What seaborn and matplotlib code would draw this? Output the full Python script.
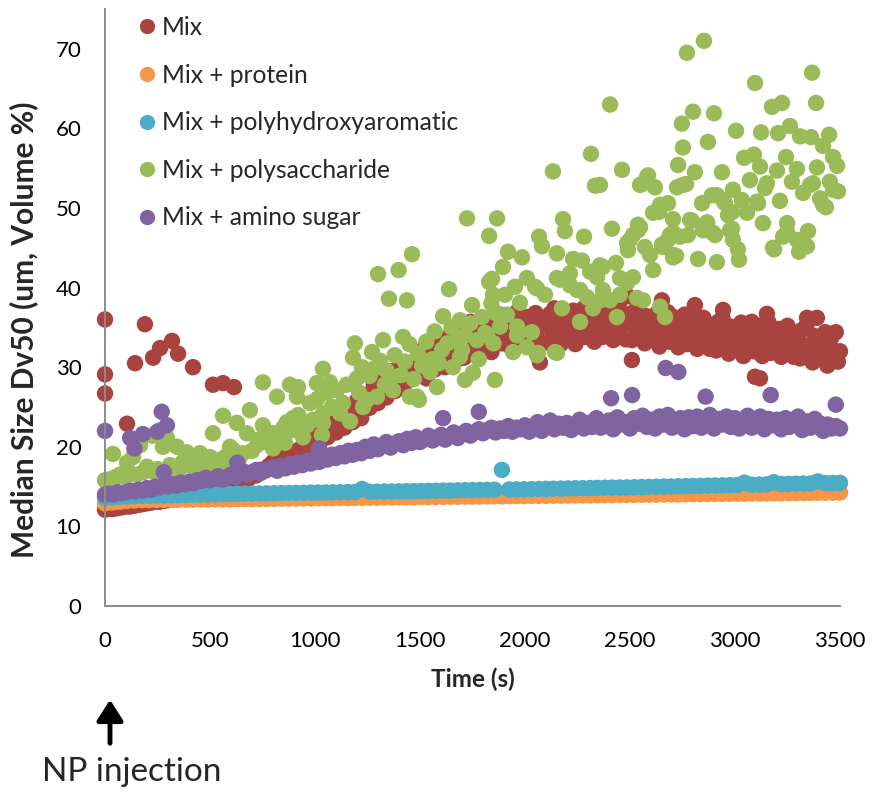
import numpy as np
import pandas as pd
import matplotlib
matplotlib.use("Agg")
import matplotlib.pyplot as plt
import seaborn as sns

# ---------------- data ----------------
series_names = ["Mix", "Mix + protein", "Mix + polyhydroxyaromatic",
                "Mix + polysaccharide", "Mix + amino sugar"]
series_colors = ["#A8433F", "#F79646", "#4BACC6", "#9BBB59", "#8064A2"]

# Mix: early band (20 s steps, 0-1480 s)
mix_t1 = np.arange(0, 1500, 20)
mix_y1 = [12.1, 12.2, 12.2, 12.3, 12.4, 12.5, 12.5, 12.6, 12.7, 12.8,
          12.9, 13.0, 13.1, 13.1, 13.2, 13.3, 13.4, 13.4, 13.5, 13.6,
          13.8, 13.9, 14.1, 14.1, 14.4, 14.5, 14.7, 14.8, 15.1, 15.2,
          15.6, 15.3, 16.0, 16.2, 15.9, 16.7, 16.4, 17.1, 17.0, 17.6,
          18.1, 17.6, 18.6, 18.3, 19.0, 18.8, 19.6, 19.2, 20.3, 19.8,
          21.4, 20.3, 22.0, 21.2, 22.9, 21.8, 23.0, 22.4, 24.3, 23.1,
          25.8, 23.6, 26.5, 24.9, 27.8, 25.5, 28.6, 26.2, 29.5, 27.0,
          30.0, 27.4, 29.6, 28.5, 30.9]
# Mix: late band (10 s steps, 1500-3500 s)
mix_t2 = np.arange(1500, 3501, 10)
mix_y2 = [32.0, 29.2, 30.9, 28.6, 31.9, 30.7, 33.4, 29.7, 32.2, 30.8,
          31.3, 33.4, 30.0, 33.1, 31.2, 34.4, 32.3, 33.8, 31.0, 33.2,
          33.6, 31.2, 34.9, 32.7, 35.7, 32.1, 33.7, 31.5, 35.1, 33.8,
          32.7, 34.9, 33.7, 36.1, 31.9, 34.8, 35.8, 33.5, 36.6, 33.0,
          36.4, 33.4, 35.0, 32.6, 35.8, 34.4, 36.9, 33.2, 35.5, 34.0,
          34.3, 36.3, 32.8, 35.7, 33.7, 36.8, 34.7, 36.1, 33.1, 35.3,
          35.6, 33.1, 36.7, 34.4, 37.4, 33.7, 35.2, 32.9, 36.4, 35.1,
          33.9, 36.0, 34.8, 37.1, 32.9, 35.7, 36.7, 34.4, 37.4, 33.8,
          37.1, 34.1, 35.7, 33.2, 36.4, 35.0, 37.6, 33.8, 36.1, 34.6,
          34.9, 36.9, 33.4, 36.3, 34.3, 37.4, 35.2, 36.5, 33.5, 35.6,
          35.9, 33.4, 37.0, 34.7, 37.6, 33.8, 35.3, 33.0, 36.4, 35.0,
          33.7, 35.8, 34.6, 36.8, 32.6, 35.3, 36.1, 33.8, 36.9, 33.2,
          36.4, 33.4, 35.0, 32.5, 35.6, 34.2, 36.6, 32.9, 35.1, 33.5,
          33.8, 35.8, 32.3, 35.2, 33.2, 36.2, 34.0, 35.3, 32.3, 34.3,
          34.6, 32.1, 35.7, 33.4, 36.2, 32.5, 34.0, 31.7, 35.1, 33.7,
          32.5, 34.6, 33.4, 35.6, 31.4, 34.3, 35.2, 32.7, 35.7, 32.0,
          35.3, 32.3, 33.9, 31.4, 34.5, 33.1, 35.6, 31.8, 34.0, 32.5,
          32.8, 34.8, 31.3, 34.2, 32.2, 35.2, 33.0, 34.2, 31.3, 33.3,
          33.6, 31.1, 34.7, 32.4, 35.2, 31.5, 32.8, 30.6, 33.9, 32.5,
          31.3, 33.4, 32.2, 34.4, 30.2, 32.9, 33.8, 31.4, 34.4, 30.7,
          32.0]
# Mix: scattered points
mix_t3 = [0, 0, 0, 105, 143, 190, 229, 262, 319, 348, 419, 514, 562, 614,
          2071, 2490, 2509, 2652, 2809, 2943, 3095, 3119, 3152, 3343, 3390]
mix_y3 = [36.0, 29.1, 26.7, 22.9, 30.5, 35.4, 31.2, 32.4, 33.3, 31.7, 30.0,
          27.8, 28.0, 27.5,
          30.6, 38.9, 30.9, 38.4, 37.8, 37.2, 28.8, 28.6, 36.7, 36.2, 36.2]

# Mix + protein (35 s steps)
prot_t = np.arange(0, 3501, 35)
prot_y = [12.9, 13.0, 13.1, 13.2, 13.25, 13.3, 13.3, 13.32, 13.33, 13.33,
          13.35, 13.36, 13.36, 13.38, 13.38, 13.4, 13.41, 13.41, 13.43, 13.44,
          13.44, 13.46, 13.46, 13.47, 13.49, 13.49, 13.5, 13.52, 13.52, 13.54,
          13.55, 13.55, 13.57, 13.57, 13.59, 13.6, 13.6, 13.62, 13.63, 13.63,
          13.65, 13.66, 13.66, 13.68, 13.69, 13.69, 13.71, 13.72, 13.72, 13.74,
          13.75, 13.75, 13.77, 13.78, 13.78, 13.8, 13.81, 13.81, 13.83, 13.84,
          13.84, 13.86, 13.87, 13.87, 13.89, 13.9, 13.9, 13.92, 13.93, 13.93,
          13.95, 13.96, 13.96, 13.98, 13.99, 13.99, 14.01, 14.02, 14.02, 14.04,
          14.05, 14.05, 14.07, 14.08, 14.08, 14.1, 14.11, 14.11, 14.13, 14.14,
          14.14, 14.16, 14.17, 14.17, 14.19, 14.2, 14.2, 14.22, 14.23, 14.23,
          14.25]

# Mix + polyhydroxyaromatic (35 s steps)
poly_t = np.arange(0, 3501, 35)
poly_y = [13.6, 13.65, 13.7, 13.75, 13.8, 13.82, 13.85, 13.87, 13.9, 13.92,
          13.94, 13.96, 13.98, 14.0, 14.02, 14.04, 14.06, 14.08, 14.1, 14.11,
          14.13, 14.14, 14.15, 14.17, 14.18, 14.2, 14.21, 14.22, 14.24, 14.25,
          14.27, 14.28, 14.29, 14.31, 14.32, 14.7, 14.35, 14.36, 14.38, 14.39,
          14.4, 14.42, 14.43, 14.45, 14.46, 14.48, 14.5, 14.51, 14.53, 14.54,
          14.56, 14.58, 14.59, 14.61, 17.1, 14.64, 14.65, 14.66, 14.68, 14.7,
          14.72, 14.73, 14.75, 14.77, 14.79, 14.8, 14.82, 14.84, 14.86, 14.88,
          14.89, 14.9, 14.92, 14.94, 14.96, 14.98, 15.0, 15.02, 15.04, 15.06,
          15.08, 15.1, 15.12, 15.14, 15.16, 15.18, 15.2, 15.5, 15.24, 15.26,
          15.28, 15.55, 15.32, 15.34, 15.36, 15.38, 15.4, 15.65, 15.44, 15.45,
          15.47]

# Mix + polysaccharide (individual points)
sacc_t = [0, 20, 38, 50, 71, 90, 105, 120, 133, 150, 167, 181, 200, 225, 230,
          250, 262, 276, 295, 309, 330, 343, 360, 371, 390, 410, 430, 452, 452,
          470, 490, 500, 514, 533, 550, 562, 580, 595, 595, 610, 628, 640, 657,
          676, 690, 700, 724, 740, 752, 752, 770, 800, 800, 819, 830, 850, 857,
          866, 881, 895, 895, 914, 919, 920, 940, 943, 962, 976, 990,
          1009, 1010, 1033, 1038, 1038, 1038, 1060, 1071, 1081, 1105, 1120,
          1133, 1150, 1167, 1181, 1190, 1200, 1210, 1224, 1229, 1248, 1260,
          1271, 1280, 1295, 1300, 1310, 1324, 1333, 1340, 1352, 1367, 1371,
          1380, 1398, 1410, 1419, 1429, 1438, 1450, 1452, 1462, 1470, 1486,
          1490, 1495, 1510, 1530, 1548, 1560, 1570, 1581, 1590, 1605, 1610,
          1630, 1638, 1650, 1657, 1676, 1690, 1690, 1700, 1714, 1714, 1724,
          1740, 1748, 1752, 1771, 1780, 1795, 1810, 1819, 1829, 1829, 1840,
          1843, 1848, 1850, 1857, 1860, 1867, 1881, 1895, 1905, 1914, 1919,
          1943, 1952, 1962, 1962, 1976, 1986, 2009, 2009, 2033, 2048, 2057,
          2057, 2062, 2067, 2081, 2095, 2133, 2143, 2152, 2152, 2152, 2167,
          2176, 2181, 2190, 2214, 2214, 2229, 2248, 2262, 2262, 2271, 2281,
          2295, 2310, 2314, 2324, 2333, 2343, 2357, 2357, 2357, 2362, 2371,
          2371, 2405, 2405, 2414, 2433, 2438, 2452, 2452, 2462, 2486, 2486,
          2490,
          2500, 2514, 2514, 2533, 2538, 2538, 2548, 2548, 2557, 2562, 2571,
          2581, 2586, 2595, 2610, 2610, 2619, 2638, 2643, 2643, 2652, 2657,
          2667, 2681, 2681, 2690, 2705, 2705, 2705, 2705, 2719, 2724, 2729,
          2738, 2747, 2752, 2752, 2767, 2771, 2776, 2786, 2795, 2800, 2809,
          2824, 2843, 2848, 2852, 2867, 2871, 2890, 2895, 2900, 2905, 2914,
          2914, 2938, 2943, 2952, 2967, 2976, 2986, 2986, 2990, 2990, 3005,
          3014, 3019, 3033, 3043, 3057, 3071, 3090, 3095, 3105, 3110, 3119,
          3124, 3133, 3143, 3152, 3176, 3181, 3186, 3200, 3205, 3214, 3224,
          3229, 3243, 3248, 3248, 3262, 3271, 3295, 3295, 3305, 3310, 3319,
          3324, 3343, 3348, 3357, 3362, 3367, 3371, 3386, 3390, 3405, 3419,
          3419, 3433, 3448, 3452, 3467, 3467, 3486, 3490]
sacc_y = [15.8, 15.9, 19.1, 16.2, 16.5, 16.3, 18.0, 16.6, 18.7, 16.5, 20.2,
          16.8, 17.5, 21.4, 16.9, 17.2, 22.1, 20.0, 21.1, 17.7, 17.0, 20.0,
          17.4, 18.1, 19.3, 17.6, 18.2, 19.2, 17.3, 18.0, 17.8, 18.7, 21.7,
          17.5, 18.4, 23.9, 18.9, 20.0, 17.7, 19.6, 23.0, 18.6, 19.2, 21.7,
          24.6, 19.5, 20.2, 21.0, 28.1, 22.7, 20.6, 21.7, 19.8, 26.3, 21.0,
          22.4, 20.5, 23.1, 27.8, 22.1, 23.6, 26.3, 27.5, 24.0, 22.6, 21.2,
          22.7, 25.5, 23.4,
          28.0, 26.0, 21.5, 29.8, 24.2, 23.0, 26.8, 28.1, 25.0, 27.1, 24.2,
          25.5, 27.8, 23.2, 31.2, 33.0, 28.6, 26.8, 30.0, 25.0, 25.9, 28.9,
          31.9, 29.8, 26.3, 41.7, 30.8, 33.4, 27.8, 29.6, 38.6, 28.8, 27.1,
          31.5, 42.2, 29.0, 33.8, 30.7, 38.4, 32.9, 26.3, 44.2, 28.5, 26.3,
          31.7, 25.9, 30.2, 33.2, 29.4, 31.0, 34.5, 27.5, 30.5, 32.2, 36.4,
          33.0, 39.8, 35.0, 30.0, 33.4, 35.9, 31.3, 32.2, 34.0, 28.4, 48.7,
          35.5, 37.8, 29.3, 33.4, 31.0, 36.3, 34.3, 34.0, 40.7, 46.5, 38.0,
          41.1, 39.1, 33.0, 28.4, 36.8, 48.7, 35.1, 42.6, 39.1, 36.6, 44.5,
          31.9, 40.1, 34.0, 35.1, 38.1, 43.8, 41.2, 32.5, 34.4, 40.1, 31.5,
          39.9, 31.8, 46.4, 45.2, 39.1, 54.6, 31.9, 44.3, 41.2, 31.8, 41.0,
          37.4, 48.6, 47.1, 41.8, 40.3, 43.6, 39.7, 39.7, 35.7, 43.4, 46.4,
          38.8, 42.0, 56.8, 37.4, 52.8, 41.3, 52.9, 42.8, 38.4, 42.7, 39.7,
          42.6, 63.0, 38.4, 47.4, 43.1, 36.3, 41.2, 39.1, 54.8, 45.6, 40.6,
          44.7,
          46.0, 46.6, 41.3, 38.7, 47.2, 47.9, 47.6, 52.9, 53.0, 38.4, 45.1,
          53.9, 54.1, 44.1, 42.2, 49.4, 52.6, 49.5, 37.6, 50.4, 45.4, 45.1,
          36.3, 50.6, 46.0, 46.6, 44.1, 48.6, 46.9, 43.8, 44.0, 52.6, 55.4,
          46.4, 60.6, 57.6, 52.9, 53.0, 69.5, 46.6, 48.5, 48.4, 62.1, 54.5,
          43.6, 50.6, 47.2, 71.0, 48.2, 58.3, 51.6, 46.9, 61.9, 46.6, 43.2,
          51.6, 54.5, 51.0, 50.6, 49.1, 47.2, 47.4, 49.5, 52.3, 46.0, 59.7,
          44.8, 43.5, 51.0, 56.3, 49.4, 53.5, 56.7, 65.7, 50.8, 50.6, 55.2,
          59.5, 48.1, 52.5, 53.1, 62.7, 45.0, 44.8, 54.7, 59.4, 50.9, 63.2,
          46.4, 56.4, 48.1, 47.0, 60.3, 53.3, 54.9, 46.0, 44.5, 59.0, 45.7,
          51.9, 45.2, 47.1, 52.9, 58.9, 67.0, 53.1, 63.2, 55.1, 51.2, 57.8,
          50.4, 50.1, 59.2, 53.3, 56.4, 52.3, 55.3, 52.1]

# Mix + amino sugar: band (20 s steps) + scattered points
amino_t1 = np.arange(0, 3501, 20)
amino_y1 = [14.0, 14.1, 14.0, 14.3, 14.2, 14.3, 14.5, 14.4, 14.6, 14.5,
            14.8, 14.6, 15.0, 14.9, 15.2, 15.0, 15.3, 15.1, 15.5, 15.3,
            15.6, 15.4, 15.8, 15.7, 16.1, 15.8, 16.0, 16.3, 15.9, 16.2,
            16.5, 16.2, 16.6, 16.9, 16.5, 16.8, 17.1, 16.7, 17.0, 17.2,
            17.4, 17.0, 17.6, 17.3, 17.8, 17.5, 18.0, 17.7, 18.2, 17.9,
            18.5, 18.1, 18.7, 18.4, 19.0, 18.6, 19.2, 18.8, 19.5, 19.0,
            19.6, 19.2, 20.0, 19.5, 20.3, 19.7, 20.1, 20.6, 19.9, 20.4,
            20.7, 20.2, 21.0, 20.5, 21.2, 20.6, 20.9, 21.4, 20.8, 21.1,
            21.5, 20.9, 21.3, 21.8, 21.1, 21.6, 22.0, 21.4, 21.8, 22.2,
            21.7, 22.1, 22.4, 21.8, 22.3, 22.0, 22.6, 21.9, 22.4, 22.2,
            22.7, 21.9, 22.5, 23.1, 22.0, 22.6, 23.3, 22.2, 22.9, 22.4,
            23.0, 22.1, 22.7, 23.4, 22.3, 23.0, 22.5, 23.6, 22.4, 22.9,
            23.3, 22.2, 23.7, 22.8, 23.1, 22.3, 23.6, 22.9, 23.9, 22.5,
            23.4, 22.3, 23.8, 22.8, 24.0, 22.4, 23.2, 23.6, 22.2, 23.7,
            22.6, 23.8, 22.4, 23.2, 24.0, 22.3, 23.5, 22.8, 23.8, 22.5,
            23.6, 22.3, 23.2, 23.9, 22.4, 23.0, 23.8, 22.2, 23.5, 22.7,
            23.4, 22.2, 23.6, 22.5, 23.0, 23.8, 22.1, 23.2, 22.4, 23.5,
            23.0, 22.0, 22.8, 22.3, 22.6, 22.3]
amino_t2 = [0, 120, 140, 180, 250, 270, 295, 280, 630, 1020, 1610, 1780,
            2410, 2510, 2670, 2730, 2860, 3170, 3480]
amino_y2 = [22.0, 21.1, 19.8, 21.6, 21.9, 24.4, 22.7, 16.8, 18.0, 19.8, 23.6,
            24.4, 26.1, 26.5, 29.9, 29.4, 26.3, 26.5, 25.3]

x_ticks = [0, 500, 1000, 1500, 2000, 2500, 3000, 3500]
y_ticks = [0, 10, 20, 30, 40, 50, 60, 70]

# ---------------- assemble ----------------
series_t = [
    np.concatenate([mix_t1, mix_t2, mix_t3]),
    np.asarray(prot_t, dtype=float),
    np.asarray(poly_t, dtype=float),
    np.asarray(sacc_t, dtype=float),
    np.concatenate([amino_t1, amino_t2]),
]
series_y = [
    np.concatenate([mix_y1, mix_y2, mix_y3]),
    np.asarray(prot_y),
    np.asarray(poly_y),
    np.asarray(sacc_y),
    np.concatenate([amino_y1, amino_y2]),
]

sns.set_style("white")
FONT = ["Lato", "DejaVu Sans"]
plt.rcParams["font.family"] = FONT

W, H = 874, 792
fig = plt.figure(figsize=(W / 100, H / 100), dpi=100)
ax = fig.add_axes([105 / W, 1 - 606 / H, 735 / W, (606 - 9) / H])

for name, col, t, y in zip(series_names, series_colors, series_t, series_y):
    df = pd.DataFrame({"Time (s)": t, "value": y})
    sns.scatterplot(data=df, x="Time (s)", y="value", color=col, s=140,
                    linewidth=0, edgecolor="none", alpha=1.0, ax=ax,
                    label=name, clip_on=False, legend=False)

ax.set_xlim(0, 3500)
ax.set_ylim(0, 75)
ax.set_xticks(x_ticks)
ax.set_yticks(y_ticks)
ax.set_xticklabels([str(v) for v in x_ticks])
ax.set_yticklabels([str(v) for v in y_ticks])
ax.tick_params(axis="both", length=0, labelsize=16, colors="black")
ax.tick_params(axis="x", pad=18)
ax.tick_params(axis="y", pad=17)

for side in ["top", "right"]:
    ax.spines[side].set_visible(False)
for side in ["left", "bottom"]:
    ax.spines[side].set_color("#8C8C8C")
    ax.spines[side].set_linewidth(1.4)
ax.grid(False)

ax.set_xlabel("Time (s)", fontsize=17.5, fontweight="bold", labelpad=12)
ax.set_ylabel("")
fig.text(24 / W, 1 - 330 / H, "Median Size Dv50 (um, Volume %)", rotation=90,
         ha="center", va="center", fontsize=21.5, fontweight="bold")

# legend
from matplotlib.lines import Line2D
handles = [Line2D([0], [0], marker="o", linestyle="none", markersize=11,
                  markerfacecolor=c, markeredgewidth=0) for c in series_colors]
leg = ax.legend(handles, series_names, loc="upper left",
                bbox_to_anchor=(141 / W, 1 - 16 / H),
                bbox_transform=fig.transFigure, frameon=False,
                fontsize=17.7, handlelength=0.5, handletextpad=0.35,
                labelspacing=1.0, borderpad=0, borderaxespad=0)

# NP injection arrow + text
fig.patches.append(matplotlib.patches.FancyArrowPatch(
    (110 / W, 1 - 746 / H), (110 / W, 1 - 697 / H),
    transform=fig.transFigure, arrowstyle="-|>,head_length=5,head_width=3.2",
    linewidth=3.5, color="black", mutation_scale=2.5))
fig.text(132 / W, 1 - 772 / H, "NP injection", ha="center", va="center",
         fontsize=24)

fig.savefig("out.png", dpi=100)
